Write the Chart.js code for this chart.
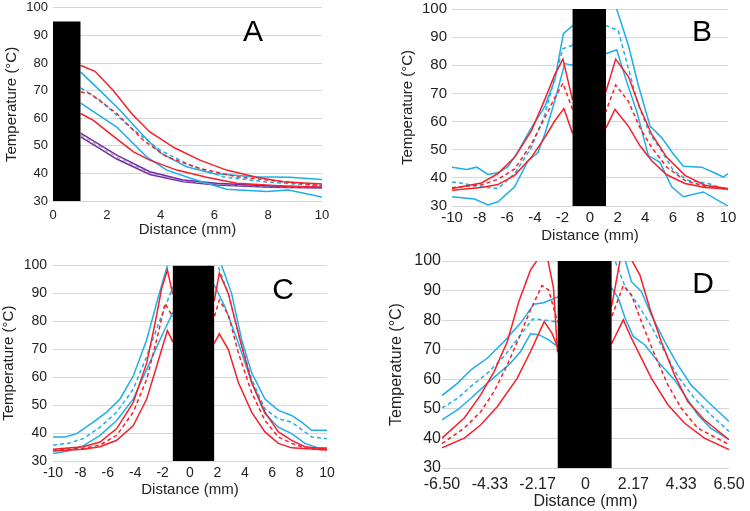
<!DOCTYPE html>
<html>
<head>
<meta charset="utf-8">
<script src="https://cdn.jsdelivr.net/npm/chart.js@4.4.1/dist/chart.umd.min.js"></script>
<style>
  html, body { margin: 0; padding: 0; background: #fff; width: 750px; height: 511px; overflow: hidden; position: relative; }
  canvas { position: absolute; }
</style>
</head>
<body>
<canvas id="chartA"></canvas>
<canvas id="chartB"></canvas>
<canvas id="chartC"></canvas>
<canvas id="chartD"></canvas>
<script>
/* four temperature-vs-distance panels */
var RED = '#F5202A', BLUE = '#1EAEE8', PURPLE = '#7030A0', PURPLE_LT = '#B79AD6',
    GRID = '#D6D6D6', TEXT = '#222222';

/* ---------- data: [distance mm, temperature C] ---------- */
var Y_TICKS = [30, 40, 50, 60, 70, 80, 90, 100];
var D_TICKS = [-6.5, -4.33, -2.17, 0, 2.17, 4.33, 6.5];

// panel A (probe block 0..1 mm, top 95)
var aBlock = [0, 1.03, 95];
var aRedHi = [[1.03,79.1],[1.56,77],[2.24,70],[2.92,61.7],[3.6,55],[4.53,49.2],[5.46,44.8],[6.45,41.2],[7.57,38.6],[8.55,37],[10,36.2]];
var aRedDash = [[1.03,69.5],[1.38,68.9],[2.37,61.7],[3.36,52],[4.23,46],[5.46,41.8],[6.83,38.8],[8.55,37],[10,35.6]];
var aRedLo = [[1.03,61.7],[1.5,59.2],[2.12,54.4],[2.99,47.8],[3.6,44.8],[4.6,41.2],[5.71,38.6],[6.83,36.4],[8.55,35.4],[10,35]];
var aBlueHi = [[1.03,76.7],[1.75,70],[2.49,62.9],[3.23,55],[3.98,47.5],[4.97,42.4],[5.95,40],[7.44,38.8],[8.8,38.6],[10,37.8]];
var aBlueDash = [[1.03,71],[1.75,66.5],[2.86,56.8],[3.98,48.4],[5.09,43],[6.32,38.8],[7.8,37],[10,35.4]];
var aBlueLo = [[1.03,65.5],[2.37,56.8],[3.48,46],[4.23,41.2],[5.2,38],[6.45,34.3],[7.94,33.4],[8.75,34],[10,31.4]];
var aPurHi = [[1.03,54.6],[2.37,46.6],[3.6,40.6],[4.84,37.6],[6.08,36.4],[8.1,35.4],[10,35]];
var aPurMid = [[1.03,53.9],[2.37,45.9],[3.6,40.1],[4.84,37.3],[6.08,36.1],[8.1,35.2],[10,34.85]];
var aPurLo = [[1.03,53.2],[2.37,45.2],[3.6,39.6],[4.84,37],[6.08,35.8],[8.1,35],[10,34.7]];

// panel B
var bBlock = [-1.28, 1.16, 100];
var bBlueHi = [[-10,43.8],[-8.94,43],[-8.21,43.8],[-7.39,41.2],[-6.67,41.8],[-5.94,44],[-5.2,49.5],[-4.35,57],[-3.26,65.5],[-2.54,75],[-1.93,91.2],[-1.28,94],
               [1.16,105],[1.93,100],[2.78,87.1],[3.5,73],[4.35,58.4],[5.19,54.3],[6.04,48.5],[6.76,44.1],[8.09,43.8],[8.93,42],[9.66,40.3],[10,41.5]];
var bBlueDash = [[-10,38.5],[-9.4,38.2],[-7.87,36.8],[-6.67,36.2],[-5.46,41.5],[-4.25,50.8],[-3.28,62.5],[-2.56,75.4],[-1.96,85.9],[-1.28,87.1],
                 [1.16,94.1],[2.05,92.3],[2.78,78.9],[3.5,66],[4.35,55.5],[5.19,49.6],[6.04,42.6],[7.12,39.1],[8.57,38],[10,35.6]];
var bBlueLo = [[-10,33.3],[-8.36,32.5],[-7.39,30.4],[-6.67,31.5],[-5.46,36.8],[-4.49,46.1],[-3.77,49],[-3.28,55.5],[-2.56,67.2],[-1.83,80.6],[-1.28,80],
               [1.16,84.1],[1.93,85.5],[2.66,74.2],[3.38,63.7],[4.23,47.9],[5.07,45.5],[5.92,36.8],[6.76,33.3],[8.21,35],[10,30]];
var bRedHi = [[-10,36.2],[-7.87,38.2],[-6.67,41.5],[-5.46,47.3],[-4.25,56.7],[-3.28,67.8],[-2.56,76.6],[-1.96,82.2],[-1.28,68],
              [1.16,70.7],[1.86,82.2],[2.78,76],[3.62,64.8],[4.47,55.5],[5.56,47.3],[6.88,40.9],[8.33,37.4],[10,36.2]];
var bRedDash = [[-10,36.5],[-7.87,37.5],[-6.67,39.5],[-5.46,43.2],[-4.25,52],[-3.28,61.3],[-2.56,68.4],[-1.96,73.6],[-1.28,64.5],
                [1.16,63.7],[1.86,73],[2.78,67.2],[3.62,57.8],[4.47,50.8],[5.56,43.8],[6.88,39.1],[8.33,37],[10,36]];
var bRedLo = [[-10,35.6],[-7.87,36.6],[-6.67,37.6],[-5.46,40.9],[-4.25,47.3],[-3.28,54.3],[-2.56,60.2],[-1.89,64.6],[-1.28,56],
              [1.16,57.8],[1.81,64.3],[2.78,58.4],[3.62,51.4],[4.47,46.1],[5.56,41.1],[6.88,38],[8.33,36.6],[10,36]];

// panel C
var cBlock = [-1.27, 1.78, 100];
var cBlueHi = [[-10,38.6],[-9.12,38.6],[-8.27,39.8],[-7.06,43.9],[-6.08,47.5],[-5.11,52.2],[-4.14,60.4],[-3.16,73.4],[-2.31,88.8],[-1.65,100],[-1.27,104],
               [1.78,106],[2.31,100],[3.04,89.9],[3.77,73.4],[4.5,61.6],[5.47,52.2],[6.45,48.1],[7.42,46.3],[8.15,43.9],[8.88,41],[10,41]];
var cBlueDash = [[-10,35.7],[-8.9,36.3],[-7.79,38],[-6.57,42.1],[-5.35,47.5],[-4.14,55.7],[-3.16,67.5],[-2.19,80.5],[-1.27,92],
                 [1.78,101],[2.07,99.4],[2.8,89.9],[3.65,73.4],[4.5,59.3],[5.47,48.6],[6.45,45.1],[7.42,43.9],[8.88,38.6],[10,38]];
var cBlueLo = [[-10,32.7],[-8.9,33.6],[-7.79,35.4],[-6.57,39.2],[-5.35,44.5],[-4.14,52.2],[-3.16,62.8],[-2.19,73.4],[-1.27,83],
               [1.78,92.9],[2.55,85.2],[3.53,72.2],[4.5,58.1],[5.47,46.9],[6.45,42.1],[7.42,39.8],[8.39,36.3],[9.37,34.7],[10,34.7]];
var cRedHi = [[-10,34.2],[-7.79,35.1],[-6.57,36.8],[-5.35,41.6],[-4.14,51],[-3.16,65.1],[-2.55,79.3],[-2.07,91.7],[-1.65,98.4],[-1.27,89.9],
              [1.78,87.6],[2.14,97.3],[2.8,89.9],[3.65,73.4],[4.5,58.1],[5.47,47.5],[6.45,40.4],[7.42,37.4],[8.39,35.1],[10,34.3]];
var cRedDash = [[-10,33.9],[-7.79,34.5],[-6.57,35.7],[-5.35,39.2],[-4.14,47.5],[-3.16,59.3],[-2.43,73.4],[-1.82,86.4],[-1.27,81.7],
                [1.78,81.7],[2.14,87.6],[2.8,82.3],[3.53,68.7],[4.5,54.5],[5.47,44.5],[6.45,38.6],[7.42,36.3],[8.39,34.7],[10,33.9]];
var cRedLo = [[-10,33.6],[-7.79,34.2],[-6.57,35.1],[-5.35,37.4],[-4.14,42.7],[-3.16,52.2],[-2.43,64],[-1.65,76.7],[-1.27,72.8],
              [1.78,72.2],[2.14,75.5],[2.8,69.9],[3.53,58.1],[4.5,47.5],[5.47,40.4],[6.45,36.3],[7.42,34.7],[10,33.9]];

// panel D
var dBlock = [-1.27, 1.19, 100];
var dBlueHi = [[-6.5,54.5],[-5.79,58.7],[-5.19,63.2],[-4.44,67.2],[-3.69,72.8],[-2.94,79],[-2.34,85.4],[-1.9,85.9],[-1.27,87.8],
               [1.19,104],[1.79,100.4],[2.08,93],[2.53,89.7],[2.98,81.8],[3.58,72.8],[4.18,64.9],[4.78,58.1],[5.53,52.5],[6.5,45.7]];
var dBlueDash = [[-6.5,50.3],[-5.79,53.6],[-5.19,57.6],[-4.44,62.1],[-3.69,67.7],[-2.94,75],[-2.39,80.4],[-1.9,80.1],[-1.27,79.3],
                 [1.19,103],[1.34,100],[1.79,91.4],[2.38,85.2],[2.98,77.9],[3.58,69.4],[4.18,61],[4.93,53.6],[5.67,48],[6.5,42.4]];
var dBlueLo = [[-6.5,46.3],[-5.79,49.7],[-5.19,53.6],[-4.44,58.7],[-3.39,65.5],[-2.94,69.4],[-2.49,75.4],[-2.11,75.1],[-1.67,73.3],[-1.27,71.1],
               [1.19,90.8],[1.49,87.4],[1.79,80.7],[2.16,74.5],[2.68,71.7],[3.28,66],[4.03,59.8],[4.48,54.8],[5.08,48],[5.67,43.5],[6.5,39.6]];
var dRedHi = [[-6.5,40.1],[-5.49,46.9],[-4.74,54.8],[-4.14,62.6],[-3.54,72.8],[-3.02,86.3],[-2.49,97],[-2.12,101],[-1.75,102],[-1.45,90.8],[-1.27,69.5],
              [1.19,85],[1.56,100],[1.8,103],[2.08,100.4],[2.46,95.3],[2.91,84],[3.43,72.8],[4.03,61.5],[4.63,52.5],[5.38,46.3],[6.5,39.6]];
var dRedDash = [[-6.5,38.2],[-5.49,43.5],[-4.74,49.1],[-4.14,55.9],[-3.54,64.9],[-3.02,73.9],[-2.49,83.5],[-1.97,91.7],[-1.67,90.2],[-1.27,79.5],
                [1.19,81.2],[1.71,91.7],[2.08,88.5],[2.53,79.5],[3.13,68.3],[3.73,58.1],[4.33,50.3],[5.08,43.5],[6.5,37.9]];
var dRedLo = [[-6.5,36.8],[-5.49,40.1],[-4.74,44.6],[-3.99,50.8],[-3.09,60.4],[-2.49,69.4],[-1.87,79.5],[-1.52,75.6],[-1.27,71],
              [1.19,72.2],[1.71,80.1],[2.08,73.9],[2.98,60.4],[3.73,51.4],[4.48,45.2],[5.38,40.1],[6.5,36.2]];

/* ---------- helpers ---------- */
Chart.defaults.font.family = '"Liberation Sans", Arial, sans-serif';
Chart.defaults.color = TEXT;
Chart.defaults.animation = false;

function series(pts, color, dashed, width) {
  return {
    data: pts.map(function (p) { return { x: p[0], y: p[1] }; }),
    borderColor: color, borderWidth: width || 1.5,
    borderDash: dashed ? [4, 3] : [],
    pointRadius: 0, tension: 0, fill: false
  };
}
// black probe block: flat top filled down to 30
function block(b) {
  return {
    data: [{ x: b[0], y: b[2] }, { x: b[1], y: b[2] }],
    borderWidth: 0, borderColor: '#000', backgroundColor: '#000',
    pointRadius: 0, tension: 0, fill: { value: 30 }
  };
}

var letterPlugin = {
  id: 'letter',
  afterDraw: function (chart, args, o) {
    var c = chart.ctx;
    c.save();
    c.font = o.size + 'px "Liberation Sans", Arial, sans-serif';
    c.fillStyle = '#000'; c.textAlign = 'center'; c.textBaseline = 'middle';
    c.fillText(o.text, o.x, o.y);
    c.restore();
  }
};

// p: area (l,t,r,b) in page px, canvas left cx, text placement
function panel(id, p, datasets, xOpts) {
  var cy = p.t - 12, cw = p.r + 20 - p.cx, ch = p.b + 52 - cy;
  var cv = document.getElementById(id);
  cv.width = cw; cv.height = ch;
  cv.style.left = p.cx + 'px'; cv.style.top = cy + 'px';
  var tlh = p.tick * 1.2, hlh = p.title * 1.2;

  var x = {
    type: 'linear', min: xOpts.min, max: xOpts.max,
    grid: { display: false, drawTicks: false }, border: { display: false },
    ticks: { stepSize: xOpts.step, autoSkip: false, maxRotation: 0, font: { size: p.tick },
             padding: p.xTickY - p.b - tlh / 2 },
    title: { display: true, text: 'Distance (mm)', font: { size: p.title },
             padding: { top: 0, bottom: p.b + 52 - hlh / 2 - p.xTitleY } },
    afterFit: function (s) { s.height = 52; }
  };
  if (xOpts.ticks) {
    x.afterBuildTicks = function (s) { s.ticks = xOpts.ticks.map(function (v) { return { value: v }; }); };
    x.ticks.callback = function (v) { return v === 0 ? '0' : v.toFixed(2); };
  }

  return new Chart(cv, {
    type: 'line',
    data: { datasets: datasets },
    options: {
      responsive: false, animation: false,
      layout: { padding: { left: 0, top: 12, right: 20, bottom: 0 } },
      plugins: {
        legend: { display: false }, tooltip: { enabled: false },
        letter: { text: p.letter, x: p.lx - p.cx, y: p.ly - cy, size: p.lsize }
      },
      scales: {
        x: x,
        y: {
          min: 30, max: 100,
          grid: { color: GRID, lineWidth: 1, drawTicks: false }, border: { display: false },
          afterBuildTicks: function (s) { s.ticks = Y_TICKS.map(function (v) { return { value: v }; }); },
          ticks: { font: { size: p.tick }, padding: p.l - p.yTickRight },
          title: { display: true, text: 'Temperature (°C)', font: { size: p.title },
                   padding: { top: p.yTitleX - p.cx - hlh / 2, bottom: 0 } },
          afterFit: function (s) { s.width = p.l - p.cx; }
        }
      }
    },
    plugins: [letterPlugin]
  });
}

/* ---------- draw ---------- */
panel('chartA',
  { l: 53, t: 7, r: 322, b: 201, cx: 0, yTitleX: 12, yTickRight: 48, xTickY: 215, xTitleY: 230,
    tick: 13, title: 15, letter: 'A', lx: 253, ly: 33, lsize: 30 },
  [block(aBlock),
   series(aRedHi, RED), series(aRedDash, RED, true), series(aRedLo, RED),
   series(aBlueHi, BLUE), series(aBlueDash, BLUE, true), series(aBlueLo, BLUE),
   series(aPurHi, PURPLE), series(aPurMid, PURPLE_LT, true, 1.2), series(aPurLo, PURPLE)],
  { min: 0, max: 10, step: 2 });

panel('chartB',
  { l: 452, t: 7, r: 728, b: 206, cx: 375, yTitleX: 408, yTickRight: 447, xTickY: 218, xTitleY: 236,
    tick: 15, title: 15, letter: 'B', lx: 702, ly: 33, lsize: 30 },
  [block(bBlock),
   series(bRedHi, RED), series(bRedDash, RED, true), series(bRedLo, RED),
   series(bBlueHi, BLUE), series(bBlueDash, BLUE, true), series(bBlueLo, BLUE)],
  { min: -10, max: 10, step: 2 });

panel('chartC',
  { l: 53, t: 263, r: 327, b: 461, cx: 0, yTitleX: 9, yTickRight: 47, xTickY: 473, xTitleY: 490,
    tick: 14, title: 15, letter: 'C', lx: 283, ly: 291, lsize: 30 },
  [block(cBlock),
   series(cRedHi, RED), series(cRedDash, RED, true), series(cRedLo, RED),
   series(cBlueHi, BLUE), series(cBlueDash, BLUE, true), series(cBlueLo, BLUE)],
  { min: -10, max: 10, step: 2 });

panel('chartD',
  { l: 442, t: 261, r: 732, b: 468, cx: 375, yTitleX: 397, yTickRight: 441, xTickY: 485, xTitleY: 502,
    tick: 16, title: 16, letter: 'D', lx: 703, ly: 285, lsize: 30 },
  [block(dBlock),
   series(dRedHi, RED), series(dRedDash, RED, true), series(dRedLo, RED),
   series(dBlueHi, BLUE), series(dBlueDash, BLUE, true), series(dBlueLo, BLUE)],
  { min: -6.5, max: 6.5, ticks: D_TICKS });
</script>
</body>
</html>
